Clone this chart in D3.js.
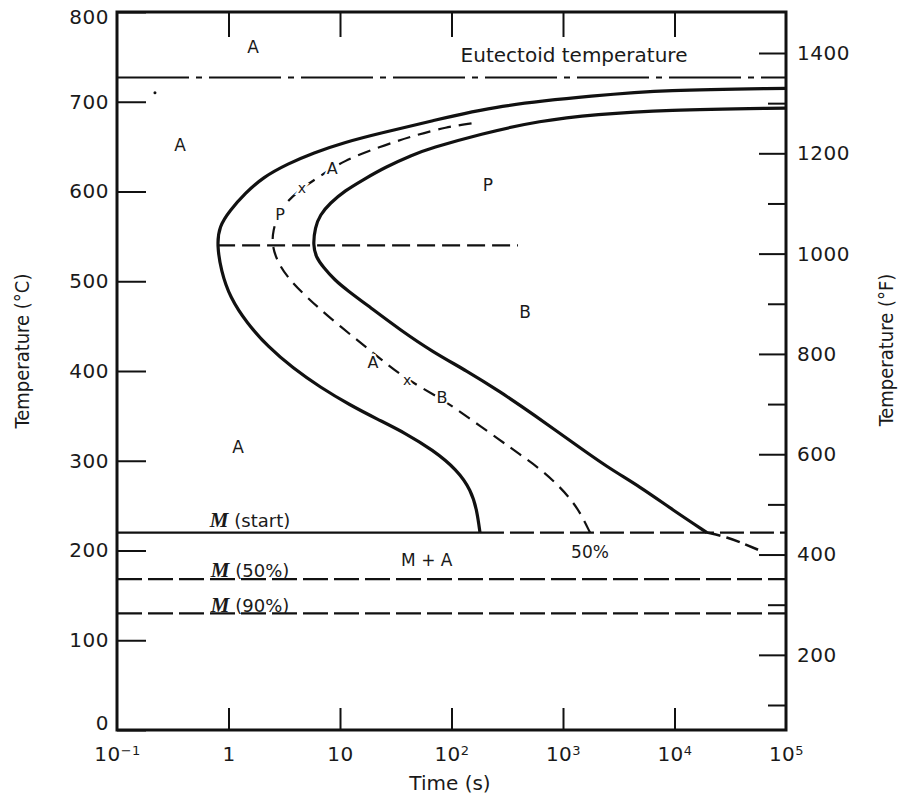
<!DOCTYPE html>
<html>
<head>
<meta charset="utf-8">
<script src="https://cdn.jsdelivr.net/npm/d3@7.9.0/dist/d3.min.js"></script>
<style>
  body { margin: 0; background: #fff; }
  svg { display: block; }
  .tick text { font-family: "DejaVu Sans", sans-serif; font-size: 20px; letter-spacing: 0.5px; fill: #1a1a1a; }
  .lbl { font-family: "DejaVu Sans", sans-serif; fill: #1a1a1a; }
</style>
</head>
<body>
<svg id="chart" width="901" height="796"></svg>
<script>
// start of transformation (solid), read bottom -> nose -> top
const startTime = [180, 169, 150, 112, 68, 38.3, 21.9, 12.3, 6.62, 3.79, 2.26, 1.47, 1.03, 0.857, 0.79, 0.823, 1.03, 1.41, 2.04, 3.42, 5.73, 11.1, 22.8, 64.1, 256, 2018, 7890, 100000];
const startTemp = [220, 245, 267, 290, 312, 331, 346, 362, 382, 403, 427, 453, 482, 512, 540, 561, 579, 598, 616, 631, 643, 655, 665, 678, 696, 707, 713, 715];

// 50% transformation (dashed)
const halfTime = [1746, 1420, 1109, 848, 622, 411, 272, 138, 82, 40, 22.8, 15.1, 8.13, 5.06, 3.56, 2.78, 2.45, 2.51, 2.78, 3.28, 4.56, 6.62, 10.6, 22.8, 45.2, 91, 153];
const halfTemp = [220, 243, 261, 276, 291, 307, 323, 349, 369, 390, 414, 432, 459, 482, 501, 520, 540, 557, 574, 588, 604, 617, 634, 650, 662, 672, 676];

// end of transformation (solid), top -> nose -> bottom
const finishTime = [100000, 7890, 2018, 622, 180, 64.1, 45.2, 25.3, 16.1, 11.1, 8.13, 6.62, 5.97, 5.73, 6.09, 7.04, 9.02, 11.6, 18.6, 34.5, 68.3, 138, 272, 538, 1230, 2483, 4909, 9700, 19550];
const finishTemp = [693, 691, 686, 679, 664, 648, 641, 627, 613, 601, 587, 574, 560, 540, 527, 516, 501, 490, 471, 446, 421, 400, 377, 352, 320, 293, 271, 245, 220];
// below M(start) the end curve goes on dashed
const finishTailTime = [19550, 29580, 42860, 58480];
const finishTailTemp = [220, 215, 207, 200];

const eutectoidTemp = 727;
const noseTemp = 540, noseFrom = 0.79, noseTo = 395;
const msTemp = 220, msSolidTo = 180;
const m50Temp = 168, m90Temp = 130;

const yTicksC = [0, 100, 200, 300, 400, 500, 600, 700, 800];
const yTicksF = [200, 400, 600, 800, 1000, 1200, 1400];
const yMinorF = [100, 300, 500, 700, 900, 1100, 1300];
const xTicks = [0.1, 1, 10, 100, 1000, 10000, 100000];
const xTickBase = ["10", "1", "10", "10", "10", "10", "10"];
const xTickExp = ["\u22121", "", "", "2", "3", "4", "5"];

const labelText = ["A", "A", "P", "B", "A", "M + A", "50%"];
const labelTime = [1.66, 0.367, 212, 456, 1.22, 60, 1746];
const labelTemp = [761, 652, 607, 466, 315, 189, 198];

const curveLabelText = ["P", "A", "A", "B", "x", "x"];
const curveLabelTime = [2.9, 8.5, 19.8, 82, 4.56, 40];
const curveLabelTemp = [574, 626, 410, 370, 604, 390];

const mLabelTail = [" (start)", " (50%)", " (90%)"];
const mLabelTemp = [226, 170, 131];

const svg = d3.select("#chart");
const x = d3.scaleLog().domain([0.1, 1e5]).range([117, 786]);
const y = d3.scaleLinear().domain([0, 800]).range([730, 12]);
const yF = d3.scaleLinear().domain([100, 1400]).range([705, 53]);
const ink = "#111";

const pts = (ts, vs) => ts.map((t, i) => ({ t: t, v: vs[i] }));
const line = d3.line().x(d => x(d.t)).y(d => y(d.v)).curve(d3.curveBasis);

// axes
const styleAxis = g => {
  g.select(".domain").remove();
  g.selectAll(".tick line").attr("stroke", ink).attr("stroke-width", 2);
};

svg.append("g").attr("transform", `translate(${x.range()[0]},0)`)
  .call(d3.axisLeft(y).tickValues(yTicksC).tickSizeInner(-29).tickSizeOuter(0).tickPadding(8))
  .call(styleAxis)
  .call(g => g.selectAll(".tick text").attr("dy", d => d === 0 ? "-0.05em" : d === 800 ? "0.55em" : "0.32em"));

svg.append("g").attr("transform", `translate(${x.range()[1]},0)`)
  .call(d3.axisRight(yF).tickValues(yTicksF).tickSizeInner(-27).tickSizeOuter(0).tickPadding(11).tickFormat(d3.format("d")))
  .call(styleAxis);

svg.append("g").attr("transform", `translate(${x.range()[1]},0)`)
  .call(d3.axisRight(yF).tickValues(yMinorF).tickSizeInner(-18).tickSizeOuter(0).tickFormat(""))
  .call(styleAxis);

const xb = svg.append("g").attr("transform", `translate(0,${y(0)})`)
  .call(d3.axisBottom(x).tickValues(xTicks).tickSizeInner(-22).tickSizeOuter(0).tickPadding(12).tickFormat(""))
  .call(styleAxis);
xb.selectAll(".tick text").each(function (d, i) {
  const t = d3.select(this).attr("dy", "0.95em");
  t.append("tspan").text(xTickBase[i]);
  if (xTickExp[i]) t.append("tspan").attr("dy", "-0.45em").attr("font-size", "13px").text(xTickExp[i]);
});
xb.selectAll(".tick").filter(d => d === 0.1 || d === 1e5).select("line").remove();

svg.append("g").attr("transform", `translate(0,${y(800)})`)
  .call(d3.axisTop(x).tickValues(xTicks.slice(1, 6)).tickSizeInner(-25).tickSizeOuter(0).tickFormat(""))
  .call(styleAxis);

// frame
svg.append("rect")
  .attr("x", x.range()[0]).attr("y", y(800))
  .attr("width", x.range()[1] - x.range()[0]).attr("height", y(0) - y(800))
  .attr("fill", "none").attr("stroke", ink).attr("stroke-width", 3);

// horizontal reference lines
const hline = (t0, t1, v, w, dash) => svg.append("line")
  .attr("x1", x(t0)).attr("x2", x(t1)).attr("y1", y(v)).attr("y2", y(v))
  .attr("stroke", ink).attr("stroke-width", w).attr("stroke-dasharray", dash);

hline(0.1, 1e5, eutectoidTemp, 2.2, "72 7 6 7");
hline(noseFrom, noseTo, noseTemp, 2.2, "18 7");
hline(0.1, msSolidTo, msTemp, 2.2, null);
hline(msSolidTo, 1e5, msTemp, 2.2, "24 6");
hline(0.1, 1e5, m50Temp, 2.2, "25 6");
hline(0.1, 1e5, m90Temp, 2.2, "25 6");

// transformation curves
svg.append("path").attr("d", line(pts(startTime, startTemp)))
  .attr("fill", "none").attr("stroke", ink).attr("stroke-width", 3.2);
svg.append("path").attr("d", line(pts(finishTime, finishTemp)))
  .attr("fill", "none").attr("stroke", ink).attr("stroke-width", 3.2);
svg.append("path").attr("d", line(pts(finishTailTime, finishTailTemp)))
  .attr("fill", "none").attr("stroke", ink).attr("stroke-width", 2.6).attr("stroke-dasharray", "14 6");
svg.append("path").attr("d", line(pts(halfTime, halfTemp)))
  .attr("fill", "none").attr("stroke", ink).attr("stroke-width", 2.2).attr("stroke-dasharray", "13 8");

// labels on the curve, with a white halo to break the dashes
svg.selectAll(".clbl").data(curveLabelText).join("text")
  .attr("class", "lbl")
  .attr("x", (d, i) => x(curveLabelTime[i])).attr("y", (d, i) => y(curveLabelTemp[i]))
  .attr("text-anchor", "middle").attr("dominant-baseline", "central")
  .attr("font-size", d => d === "x" ? "14px" : "16px")
  .attr("stroke", "#fff").attr("stroke-width", 4).attr("paint-order", "stroke")
  .text(d => d);

svg.selectAll(".rlbl").data(labelText).join("text")
  .attr("class", "lbl")
  .attr("x", (d, i) => x(labelTime[i])).attr("y", (d, i) => y(labelTemp[i]))
  .attr("text-anchor", "middle").attr("dominant-baseline", "central")
  .attr("font-size", "17px")
  .text(d => d);

svg.append("text").attr("class", "lbl")
  .attr("x", x(1256)).attr("y", y(752)).attr("text-anchor", "middle").attr("dominant-baseline", "central")
  .attr("font-size", "20px").text("Eutectoid temperature");

// dot near 700 C
svg.append("circle").attr("cx", x(0.219)).attr("cy", y(710)).attr("r", 1.5).attr("fill", ink);

// M labels
mLabelTail.forEach((s, i) => {
  const t = svg.append("text").attr("class", "lbl")
    .attr("x", x(1.56)).attr("y", y(mLabelTemp[i])).attr("text-anchor", "middle")
    .attr("font-size", "18px");
  t.append("tspan").attr("font-family", "'Liberation Serif', serif").attr("font-style", "italic")
    .attr("font-weight", "bold").attr("font-size", "21px").text("M");
  t.append("tspan").text(s);
});

// axis titles
const titleFont = "'DejaVu Sans Condensed', 'Liberation Sans Narrow', sans-serif";
svg.append("text").attr("class", "lbl")
  .attr("transform", "translate(29,351) rotate(-90)")
  .attr("text-anchor", "middle").attr("font-size", "20px")
  .attr("font-family", titleFont).attr("font-stretch", "condensed")
  .text("Temperature (\u00B0C)");

svg.append("text").attr("class", "lbl")
  .attr("transform", "translate(893,350) rotate(-90)")
  .attr("text-anchor", "middle").attr("font-size", "20px")
  .attr("font-family", titleFont).attr("font-stretch", "condensed")
  .text("Temperature (\u00B0F)");

svg.append("text").attr("class", "lbl")
  .attr("x", 450).attr("y", 790).attr("text-anchor", "middle").attr("font-size", "20px")
  .text("Time (s)");
</script>
</body>
</html>
